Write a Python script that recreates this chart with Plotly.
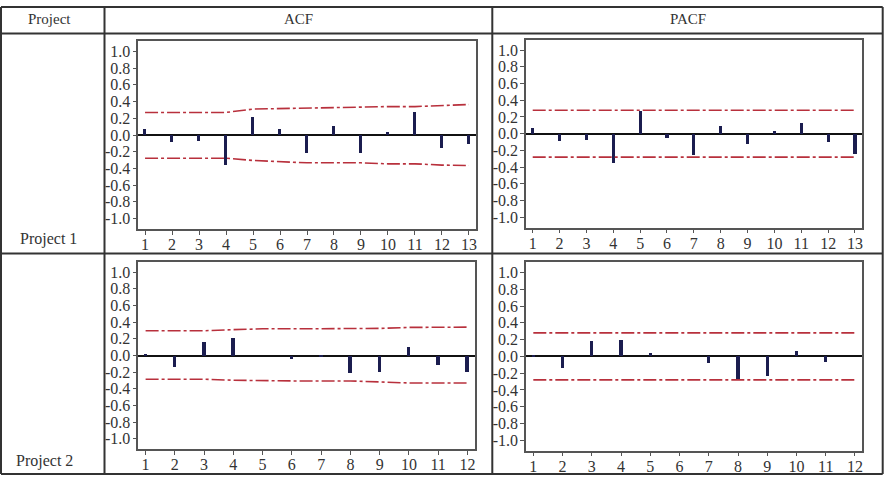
import plotly.graph_objects as go

# ---------------- data ----------------
lags_p1 = list(range(1, 14))
lags_p2 = list(range(1, 13))

acf_p1 = [0.07, -0.08, -0.07, -0.36, 0.21, 0.07, -0.21, 0.11, -0.21, 0.03, 0.27, -0.16, -0.11]
acf_p1_upper = [0.27, 0.27, 0.27, 0.27, 0.31, 0.317, 0.325, 0.333, 0.34, 0.34, 0.34, 0.353, 0.365]
acf_p1_lower = [-0.278, -0.278, -0.278, -0.278, -0.305, -0.32, -0.333, -0.333, -0.333, -0.345, -0.345, -0.36, -0.365]

pacf_p1 = [0.07, -0.08, -0.07, -0.35, 0.28, -0.05, -0.25, 0.10, -0.12, 0.03, 0.13, -0.09, -0.24]
pacf_p1_bound = 0.28

acf_p2 = [0.02, -0.14, 0.17, 0.21, 0.0, -0.04, -0.02, -0.21, -0.20, 0.10, -0.11, -0.20]
acf_p2_upper = [0.297, 0.297, 0.297, 0.31, 0.32, 0.32, 0.32, 0.32, 0.325, 0.337, 0.34, 0.34]
acf_p2_lower = [-0.285, -0.285, -0.285, -0.297, -0.305, -0.305, -0.305, -0.305, -0.317, -0.33, -0.33, -0.33]

pacf_p2 = [0.02, -0.14, 0.18, 0.19, 0.04, 0.0, -0.08, -0.28, -0.24, 0.06, -0.07, 0.0]
pacf_p2_bound = 0.28

ytick_vals = [1.0, 0.8, 0.6, 0.4, 0.2, 0.0, -0.2, -0.4, -0.6, -0.8, -1.0]
ytick_text = ["1.0", "0.8", "0.6", "0.4", "0.2", "0.0", "-0.2", "-0.4", "-0.6", "-0.8", "-1.0"]

col_headers = ["Project", "ACF", "PACF"]
row_labels = ["Project 1", "Project 2"]

# ---------------- layout helpers ----------------
W, H = 892, 480
FONT = "Liberation Serif"
BAR_COLOR = "#1b1d4f"
BOUND_COLOR = "#b8303c"
LINE_COLOR = "#333333"


def px(x):
    return x / W


def py(y):
    return 1 - y / H


fig = go.Figure()

panels = [
    # (lags, values, upper, lower, x0, x1, y0(top), y1(bottom))
    (lags_p1, acf_p1, acf_p1_upper, acf_p1_lower, 138.3, 475.7, 41.0, 229.0),
    (lags_p1, pacf_p1, [pacf_p1_bound] * len(lags_p1), [-pacf_p1_bound] * len(lags_p1), 526.0, 861.7, 39.7, 227.7),
    (lags_p2, acf_p2, acf_p2_upper, acf_p2_lower, 138.3, 474.7, 261.7, 449.3),
    (lags_p2, pacf_p2, [pacf_p2_bound] * len(lags_p2), [-pacf_p2_bound] * len(lags_p2), 526.0, 862.3, 262.0, 450.7),
]

layout_axes = {}
for i, (lags, vals, up, lo, x0, x1, yt, yb) in enumerate(panels, start=1):
    xa = "x" if i == 1 else f"x{i}"
    ya = "y" if i == 1 else f"y{i}"
    fig.add_trace(go.Bar(x=lags, y=vals, width=0.115, marker=dict(color=BAR_COLOR, line=dict(width=0)),
                         xaxis=xa, yaxis=ya, showlegend=False))
    for b in (up, lo):
        fig.add_trace(go.Scatter(x=lags, y=b, mode="lines",
                                 line=dict(color=BOUND_COLOR, width=1.6, dash="13px,3px,3px,3px"),
                                 xaxis=xa, yaxis=ya, showlegend=False))
    xkey = "xaxis" if i == 1 else f"xaxis{i}"
    ykey = "yaxis" if i == 1 else f"yaxis{i}"
    n = len(lags)
    layout_axes[xkey] = dict(
        domain=[px(x0), px(x1)], anchor=ya, range=[0.75, n + 0.25],
        tickmode="array", tickvals=lags, ticktext=[str(v) for v in lags],
        showline=True, mirror=True, linecolor="#555555", linewidth=1.5,
        ticks="outside", ticklen=4, tickcolor="#555555", showgrid=False, zeroline=False,
        ticklabelstandoff=-4,
        tickfont=dict(family=FONT, size=16, color="#333333"), fixedrange=True,
    )
    layout_axes[ykey] = dict(
        domain=[py(yb), py(yt)], anchor=xa, range=[-1.125, 1.125],
        tickmode="array", tickvals=ytick_vals, ticktext=ytick_text,
        showline=True, mirror=True, linecolor="#555555", linewidth=1.5,
        ticks="outside", ticklen=4, tickcolor="#555555", showgrid=False,
        zeroline=True, zerolinecolor="#111111", zerolinewidth=1.5,
        ticklabelstandoff=-1,
        tickfont=dict(family=FONT, size=16, color="#333333"), fixedrange=True,
    )

# table lines
shapes = []
hlines = [7, 33.5, 253.5, 474]
vlines = [1, 104.5, 492.3, 882.7]
for y in hlines:
    shapes.append(dict(type="line", xref="paper", yref="paper", x0=px(1), x1=px(882.7), y0=py(y), y1=py(y),
                       line=dict(color=LINE_COLOR, width=2)))
for x in vlines:
    shapes.append(dict(type="line", xref="paper", yref="paper", x0=px(x), x1=px(x), y0=py(7), y1=py(474),
                       line=dict(color=LINE_COLOR, width=2)))

annotations = []
header_x = [49.5, 298.5, 687.5]
for t, x in zip(col_headers, header_x):
    annotations.append(dict(text=t, x=px(x), y=py(19), xref="paper", yref="paper", showarrow=False,
                            xanchor="center", yanchor="middle", font=dict(family=FONT, size=15, color="#333333")))
row_pos = [(48.5, 239), (44.5, 461)]
for t, (x, y) in zip(row_labels, row_pos):
    annotations.append(dict(text=t, x=px(x), y=py(y), xref="paper", yref="paper", showarrow=False,
                            xanchor="center", yanchor="middle", font=dict(family=FONT, size=16, color="#333333")))

fig.update_layout(
    width=W, height=H, margin=dict(l=0, r=0, t=0, b=0),
    paper_bgcolor="white", plot_bgcolor="white",
    shapes=shapes, annotations=annotations, bargap=0, **layout_axes,
)

fig.write_html("out.html")
